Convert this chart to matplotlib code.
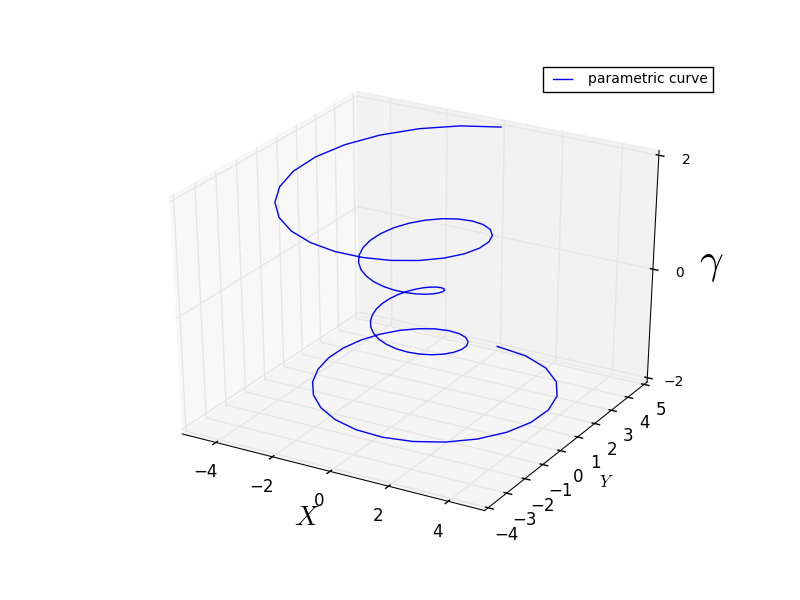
import matplotlib
matplotlib.use('Agg')
import matplotlib.pyplot as plt
from mpl_toolkits.mplot3d import Axes3D

plt.style.use('classic')

# values, half turn by half turn
x = [0.000, 1.216, 2.277, 3.126, 3.722, 4.042, 4.084, 3.865, 3.416, 2.781,
     2.012, 1.170, 0.313, -0.502, -1.226, -1.819, -2.254, -2.513, -2.593, -2.503,
     -2.261, -1.895, -1.437, -0.922, -0.390, 0.126, 0.593, 0.987, 1.289, 1.486,
     1.575, 1.559, 1.446, 1.251, 0.992, 0.690, 0.366, 0.040, -0.268, -0.541,
     -0.765, -0.931, -1.032, -1.066, -1.033, -0.940, -0.792, -0.599, -0.373, -0.127,
     0.127, 0.373, 0.599, 0.792, 0.940, 1.033, 1.066, 1.032, 0.931, 0.765,
     0.541, 0.268, -0.040, -0.366, -0.690, -0.992, -1.251, -1.446, -1.559, -1.575,
     -1.486, -1.289, -0.987, -0.593, -0.126, 0.390, 0.922, 1.437, 1.895, 2.261,
     2.503, 2.593, 2.513, 2.254, 1.819, 1.226, 0.502, -0.313, -1.170, -2.012,
     -2.781, -3.416, -3.865, -4.084, -4.042, -3.722, -3.126, -2.277, -1.216, 0.000]
y = [5.000, 4.685, 4.092, 3.278, 2.310, 1.257, 0.195, -0.809, -1.693, -2.407,
     -2.922, -3.214, -3.281, -3.135, -2.801, -2.313, -1.715, -1.052, -0.373, 0.279,
     0.864, 1.349, 1.712, 1.938, 2.025, 1.976, 1.807, 1.537, 1.190, 0.796,
     0.382, -0.025, -0.400, -0.722, -0.977, -1.152, -1.245, -1.254, -1.186, -1.049,
     -0.855, -0.619, -0.357, -0.085, 0.182, 0.429, 0.643, 0.813, 0.932, 0.992,
     0.992, 0.932, 0.813, 0.643, 0.429, 0.182, -0.085, -0.357, -0.619, -0.855,
     -1.049, -1.186, -1.254, -1.245, -1.152, -0.977, -0.722, -0.400, -0.025, 0.382,
     0.796, 1.190, 1.537, 1.807, 1.976, 2.025, 1.938, 1.712, 1.349, 0.864,
     0.279, -0.373, -1.052, -1.715, -2.313, -2.801, -3.135, -3.281, -3.214, -2.922,
     -2.407, -1.693, -0.809, 0.195, 1.257, 2.310, 3.278, 4.092, 4.685, 5.000]
z = [-2.000, -1.960, -1.919, -1.879, -1.838, -1.798, -1.758, -1.717, -1.677, -1.636,
     -1.596, -1.556, -1.515, -1.475, -1.434, -1.394, -1.354, -1.313, -1.273, -1.232,
     -1.192, -1.152, -1.111, -1.071, -1.030, -0.990, -0.949, -0.909, -0.869, -0.828,
     -0.788, -0.747, -0.707, -0.667, -0.626, -0.586, -0.545, -0.505, -0.465, -0.424,
     -0.384, -0.343, -0.303, -0.263, -0.222, -0.182, -0.141, -0.101, -0.061, -0.020,
     0.020, 0.061, 0.101, 0.141, 0.182, 0.222, 0.263, 0.303, 0.343, 0.384,
     0.424, 0.465, 0.505, 0.545, 0.586, 0.626, 0.667, 0.707, 0.747, 0.788,
     0.828, 0.869, 0.909, 0.949, 0.990, 1.030, 1.071, 1.111, 1.152, 1.192,
     1.232, 1.273, 1.313, 1.354, 1.394, 1.434, 1.475, 1.515, 1.556, 1.596,
     1.636, 1.677, 1.717, 1.758, 1.798, 1.838, 1.879, 1.919, 1.960, 2.000]

fig = plt.figure(figsize=(8, 6), dpi=100, facecolor='white')
ax = fig.add_subplot(111, projection='3d')
# old mplot3d look: unit cube stretched over the whole subplot box
ax.apply_aspect = lambda position=None: None
ax.set_box_aspect((1, 1, 1), zoom=0.9467)

ax.plot(x, y, z, color='b', label='parametric curve')
ax.legend(fontsize=10)

ax.set_xlim(-5.208, 5.208)
ax.set_ylim(-4.188, 5.188)
ax.set_zlim(-2.083, 2.083)
ax.set_xticks([-4, -2, 0, 2, 4])
ax.set_yticks([-4, -3, -2, -1, 0, 1, 2, 3, 4, 5])
ax.set_zticks([-2, 0, 2])
ax.tick_params(axis='z', labelsize=10)

ax.set_xlabel(r'$X$', fontsize=20)
ax.set_ylabel(r'$Y$')
ax.zaxis.set_rotate_label(False)
ax.set_zlabel(r'$\gamma$', fontsize=30, rotation=0)

fig.savefig('out.png', dpi=100, facecolor='white')
